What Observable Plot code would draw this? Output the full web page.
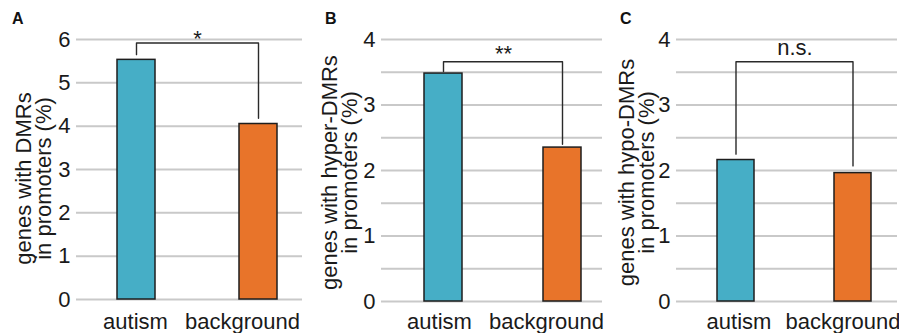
<!DOCTYPE html>
<html><head><meta charset="utf-8">
<script src="https://cdn.jsdelivr.net/npm/d3@7"></script>
<script src="https://cdn.jsdelivr.net/npm/@observablehq/plot@0.6"></script>
<style>
body{margin:0;background:#fff;}
#wrap{position:relative;width:899px;height:333px;overflow:hidden;background:#fff;font-family:"Liberation Sans",Arial,sans-serif;}
.panel{position:absolute;top:0;}
.letter{position:absolute;top:11px;font:bold 16px "Liberation Sans",Arial,sans-serif;line-height:16px;color:#111;}
</style></head><body><div id="wrap"></div>
<script>
// ---- data ----
const categories = ["autism", "background"];
const panelLetters = ["A", "B", "C"];
const yTitles = [
  "genes with DMRs\nin promoters (%)",
  "genes with hyper-DMRs\nin promoters (%)",
  "genes with hypo-DMRs\nin promoters (%)"
];
const valuesA = [5.53, 4.05];
const valuesB = [3.48, 2.35];
const valuesC = [2.16, 1.96];
const yMax = [6, 4, 4];
const yTickLabels = [[0, 1, 2, 3, 4, 5, 6], [0, 1, 2, 3, 4], [0, 1, 2, 3, 4]];
const gridStep = [1, 0.5, 0.5];
const sigLabels = ["*", "**", "n.s."];
const bracketTop = [5.92, 3.66, 3.66];
const bracketLeftEnd = [5.65, 3.51, 2.25];
const bracketRightEnd = [4.18, 2.40, 2.07];
const sigLabelY = [5.84, 3.67, 3.76];
const barColors = ["#46aec6", "#e8742a"];

// ---- layout ----
const layout = [
  {left: 0,   width: 304, marginLeft: 76, marginTop: 39, marginBottom: 34, range: [117, 277], pad: 0.689, titleDx: -42, titleDy: 9, tickPad: 14, dxA: -1, dxB: -16, letterLeft: 12},
  {left: 300, width: 304, marginLeft: 81, marginTop: 39, marginBottom: 32, range: [123, 281], pad: 0.683, titleDx: -41, titleDy: 2, tickPad: 12, dxA: -4, dxB: -16, letterLeft: 25},
  {left: 600, width: 299, marginLeft: 76, marginTop: 39, marginBottom: 32, range: [116, 271], pad: 0.686, titleDx: -39, titleDy: 2, tickPad: 12, dxA: 3, dxB: -10, letterLeft: 20}
];

const allValues = [valuesA, valuesB, valuesC];
const wrap = document.getElementById("wrap");
const font = '"Liberation Sans", Arial, sans-serif';

layout.forEach((L, i) => {
  const data = categories.map((c, j) => ({category: c, value: allValues[i][j]}));
  const step = (L.range[1] - L.range[0]) / (2 - L.pad);
  const bracket = [
    {category: categories[0], value: bracketLeftEnd[i]},
    {category: categories[0], value: bracketTop[i]},
    {category: categories[1], value: bracketTop[i]},
    {category: categories[1], value: bracketRightEnd[i]}
  ];
  const gridTicks = d3.range(0, yMax[i] + 1e-9, gridStep[i]);
  const chart = Plot.plot({
    width: L.width,
    height: 333,
    marginLeft: L.marginLeft,
    marginRight: 2,
    marginTop: L.marginTop,
    marginBottom: L.marginBottom,
    style: {background: "transparent", fontFamily: font, fontSize: "22px", color: "#1a1a1a", overflow: "visible"},
    x: {domain: categories, range: L.range, paddingInner: L.pad, paddingOuter: 0},
    y: {domain: [0, yMax[i]]},
    color: {domain: categories, range: barColors},
    marks: [
      Plot.gridY(gridTicks, {stroke: "#c9c9c9", strokeWidth: 2, strokeOpacity: 1}),
      Plot.axisY(yTickLabels[i], {tickSize: 0, tickPadding: 6, label: null, tickFormat: d3.format("d")}),
      Plot.axisX([categories[0]], {tickSize: 0, tickPadding: L.tickPad, dx: L.dxA, label: null}),
      Plot.axisX([categories[1]], {tickSize: 0, tickPadding: L.tickPad, dx: L.dxB, label: null}),
      Plot.barY(data, {x: "category", y: "value", fill: "category", stroke: "#1e1e1e", strokeWidth: 1.5}),
      Plot.line(bracket, {x: "category", y: "value", stroke: "#2a2a2a", strokeWidth: 1.4}),
      Plot.text([sigLabels[i]], {x: () => categories[0], y: () => sigLabelY[i], dx: step / 2, text: d => d, lineAnchor: "bottom", fill: "#1a1a1a"}),
      Plot.text([yTitles[i]], {frameAnchor: "left", rotate: -90, text: d => d, dx: L.titleDx, dy: L.titleDy, lineHeight: 0.9, textAnchor: "middle", lineAnchor: "middle", fill: "#1a1a1a"})
    ]
  });
  chart.classList.add("panel");
  chart.style.left = L.left + "px";
  wrap.appendChild(chart);
  const letter = document.createElement("div");
  letter.className = "letter";
  letter.textContent = panelLetters[i];
  letter.style.left = (L.left + L.letterLeft) + "px";
  wrap.appendChild(letter);
});
</script>
</body></html>
